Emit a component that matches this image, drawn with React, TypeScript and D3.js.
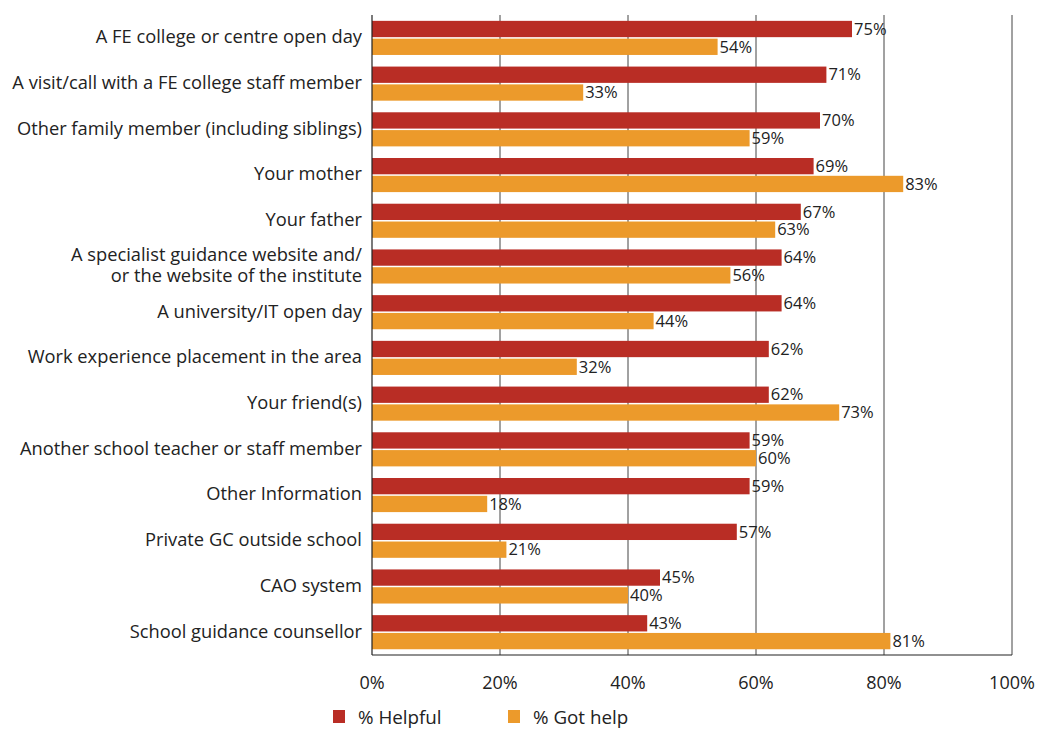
import React from "react";
import * as d3 from "d3";

const categories: string[][] = [
  ["A FE college or centre open day"],
  ["A visit/call with a FE college staff member"],
  ["Other family member (including siblings)"],
  ["Your mother"],
  ["Your father"],
  ["A specialist guidance website and/", "or the website of the institute"],
  ["A university/IT open day"],
  ["Work experience placement in the area"],
  ["Your friend(s)"],
  ["Another school teacher or staff member"],
  ["Other Information"],
  ["Private GC outside school"],
  ["CAO system"],
  ["School guidance counsellor"],
];
const helpful = [75, 71, 70, 69, 67, 64, 64, 62, 62, 59, 59, 57, 45, 43];
const gotHelp = [54, 33, 59, 83, 63, 56, 44, 32, 73, 60, 18, 21, 40, 81];
const ticks = [0, 20, 40, 60, 80, 100];
const seriesNames = ["% Helpful", "% Got help"];
const colors = ["#B92D25", "#EC9A2B"];

const W = 1038, H = 729;
const left = 372, right = 1012, top = 15, bottom = 655;
const FONT = "'Open Sans', 'Noto Sans', sans-serif";

export default function App() {
  const x = d3.scaleLinear().domain([0, 100]).range([left, right]);
  const y = d3.scaleBand<number>().domain(d3.range(categories.length)).range([top, bottom]);
  const barH = 16.3;
  return (
    <svg width={W} height={H} style={{ position: "absolute", left: 0, top: 0, fontFamily: FONT }}>
      <rect width={W} height={H} fill="#fff" />
      {ticks.slice(1).map((t) => (
        <line key={t} x1={x(t)} x2={x(t)} y1={top} y2={bottom} stroke="#444" strokeWidth={1} />
      ))}
      {categories.map((c, i) => {
        const cy = (y(i) as number) + y.bandwidth() / 2;
        const r0 = cy - 17;
        const o0 = cy + 0.8;
        return (
          <g key={i}>
            <rect x={x(0)} y={r0} width={x(helpful[i]) - x(0)} height={barH} fill={colors[0]} />
            <rect x={x(0)} y={o0} width={x(gotHelp[i]) - x(0)} height={barH} fill={colors[1]} />
            <text x={x(helpful[i]) + 2} y={r0 + barH / 2} dy="0.35em" fontSize={16.5} fill="#222">{helpful[i]}%</text>
            <text x={x(gotHelp[i]) + 2} y={o0 + barH / 2} dy="0.35em" fontSize={16.5} fill="#222">{gotHelp[i]}%</text>
            {c.map((line, k) => (
              <text key={k} x={362} y={cy + (k - (c.length - 1) / 2) * 21 - 1} dy="0.35em" textAnchor="end" fontSize={18.3} fill="#222">
                {line}
              </text>
            ))}
          </g>
        );
      })}
      <line x1={left} x2={left} y1={top} y2={bottom} stroke="#222" strokeWidth={1.2} />
      <line x1={left} x2={right} y1={bottom} y2={bottom} stroke="#222" strokeWidth={1.2} />
      {ticks.map((t) => (
        <text key={t} x={x(t)} y={683} dy="0.35em" textAnchor="middle" fontSize={18} fill="#222">{t}%</text>
      ))}
      {seriesNames.map((s, i) => {
        const lx = [333, 508][i];
        return (
          <g key={s}>
            <rect x={lx} y={710} width={12} height={13} fill={colors[i]} />
            <text x={lx + 25} y={717} dy="0.35em" fontSize={18.8} fill="#222">{s}</text>
          </g>
        );
      })}
    </svg>
  );
}
